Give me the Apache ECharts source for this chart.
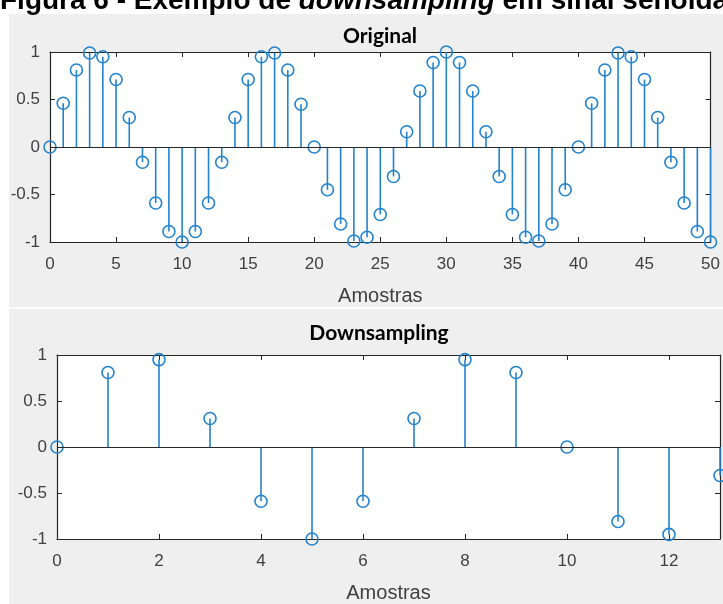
<!DOCTYPE html>
<html>
<head>
<meta charset="utf-8">
<script src="https://cdn.jsdelivr.net/npm/echarts@6/dist/echarts.min.js"></script>
<style>
html,body{margin:0;padding:0;background:#fff;}
#c{width:723px;height:604px;}
</style>
</head>
<body>
<div id="c"></div>
<script>
// Original signal samples (index 0..50)
const origX = [0,1,2,3,4,5,6,7,8,9,10,11,12,13,14,15,16,17,18,19,20,21,22,23,24,25,26,27,28,29,30,31,32,33,34,35,36,37,38,39,40,41,42,43,44,45,46,47,48,49,50];
const origY = [0,0.46,0.81,0.99,0.95,0.71,0.31,-0.16,-0.59,-0.89,-1,-0.89,-0.59,-0.16,0.31,0.71,0.95,0.99,0.81,0.45,0,-0.45,-0.81,-0.99,-0.95,-0.71,-0.31,0.16,0.59,0.89,1,0.89,0.59,0.16,-0.31,-0.71,-0.95,-0.99,-0.81,-0.45,0,0.46,0.81,0.99,0.95,0.71,0.31,-0.16,-0.59,-0.89,-1];
// Downsampled signal (index 0..13)
const downX = [0,1,2,3,4,5,6,7,8,9,10,11,12,13];
const downY = [0,0.81,0.95,0.31,-0.59,-1,-0.59,0.31,0.95,0.81,0,-0.81,-0.95,-0.31];

const pageTitle = ['Figura 6 - Exemplo de ', 'downsampling', ' em sinal senoidal'];
const panelTitles = ['Original', 'Downsampling'];
const xName = 'Amostras';

const BLUE = '#2383cf';
const AX = '#262626';
const LBL = '#404040';
const FONT = 'Liberation Sans, Arial';

function pairs(xs, ys){ return xs.map((x,i)=>[x, ys[i]]); }

function stemSeries(idx, data){
  return {
    type:'custom', xAxisIndex: idx*2, yAxisIndex: idx*2, data: data, z: 3,
    renderItem: function(params, api){
      const p0 = api.coord([api.value(0), 0]);
      const p1 = api.coord([api.value(0), api.value(1)]);
      return {type:'line', shape:{x1:p0[0], y1:p0[1], x2:p1[0], y2:p1[1]},
        style:{stroke: BLUE, lineWidth: 1.6}};
    }
  };
}
function markerSeries(idx, data){
  return {
    type:'scatter', xAxisIndex: idx*2, yAxisIndex: idx*2, data: data, z: 4,
    symbol:'circle', symbolSize: 12,
    itemStyle:{color:'transparent', borderColor: BLUE, borderWidth: 1.6, opacity: 1},
    emphasis:{disabled:true},
    silent:true,
    markLine:{silent:true, symbol:['none','none'], label:{show:false},
      lineStyle:{color: AX, width: 1.2, type:'solid'}, data:[{yAxis:0}], animation:false}
  };
}
function xAxes(gi, max, interval, showMax){
  return [
    {type:'value', gridIndex: gi, min:0, max:max, interval:interval, position:'bottom',
      axisLine:{show:true, onZero:false, lineStyle:{color:AX, width:1.2}},
      axisTick:{show:true, inside:true, length:5, lineStyle:{color:AX}},
      axisLabel:{color:LBL, fontSize:17, fontFamily:FONT, margin:14, showMaxLabel: showMax},
      splitLine:{show:false},
      name: xName, nameLocation:'middle', nameGap: 44,
      nameTextStyle:{color:LBL, fontSize:20, fontFamily:FONT}},
    {type:'value', gridIndex: gi, min:0, max:max, interval:interval, position:'top',
      axisLine:{show:true, onZero:false, lineStyle:{color:AX, width:1.2}},
      axisTick:{show:true, inside:true, length:5, lineStyle:{color:AX}},
      axisLabel:{show:false}, splitLine:{show:false}}
  ];
}
function yAxes(gi){
  return [
    {type:'value', gridIndex: gi, min:-1, max:1, interval:0.5, position:'left',
      axisLine:{show:true, onZero:false, lineStyle:{color:AX, width:1.2}},
      axisTick:{show:true, inside:true, length:5, lineStyle:{color:AX}},
      axisLabel:{color:LBL, fontSize:17, fontFamily:FONT, margin:10},
      splitLine:{show:false}},
    {type:'value', gridIndex: gi, min:-1, max:1, interval:0.5, position:'right',
      axisLine:{show:true, onZero:false, lineStyle:{color:AX, width:1.2}},
      axisTick:{show:true, inside:true, length:5, lineStyle:{color:AX}},
      axisLabel:{show:false}, splitLine:{show:false}}
  ];
}

const chart = echarts.init(document.getElementById('c'), null, {renderer:'canvas'});
const option = {
  animation:false,
  backgroundColor:'#ffffff',
  graphic:[
    {type:'rect', z:-10, shape:{x:9, y:14, width:714, height:293}, style:{fill:'#efefef'}},
    {type:'rect', z:-10, shape:{x:9, y:309, width:714, height:295}, style:{fill:'#efefef'}},
    {type:'text', left:0, top:-13, z:10, style:{
      text:'{a|'+pageTitle[0]+'}{b|'+pageTitle[1]+'}{a|'+pageTitle[2]+'}',
      rich:{
        a:{fontFamily:FONT, fontWeight:'bold', fontSize:28, fill:'#000'},
        b:{fontFamily:FONT, fontWeight:'bold', fontStyle:'italic', fontSize:28, fill:'#000'}
      }}}
  ],
  title:[
    {text:panelTitles[0], left:375, top:21, textAlign:'center',
      textStyle:{fontFamily:'Lato, Open Sans', fontWeight:'bold', fontSize:21, color:'#000'}},
    {text:panelTitles[1], left:374, top:318, textAlign:'center',
      textStyle:{fontFamily:'Lato, Open Sans', fontWeight:'bold', fontSize:21, color:'#000'}}
  ],
  grid:[
    {left:50, top:52, width:662, height:190, show:true, backgroundColor:'#ffffff', borderWidth:0},
    {left:57, top:355, width:663, height:190, show:true, backgroundColor:'#ffffff', borderWidth:0}
  ],
  xAxis: xAxes(0, 50, 5, true).concat(xAxes(1, 13, 2, false)),
  yAxis: yAxes(0).concat(yAxes(1)),
  series:[
    stemSeries(0, pairs(origX, origY)),
    markerSeries(0, pairs(origX, origY)),
    stemSeries(1, pairs(downX, downY)),
    markerSeries(1, pairs(downX, downY))
  ]
};
chart.setOption(option);
</script>
</body>
</html>
